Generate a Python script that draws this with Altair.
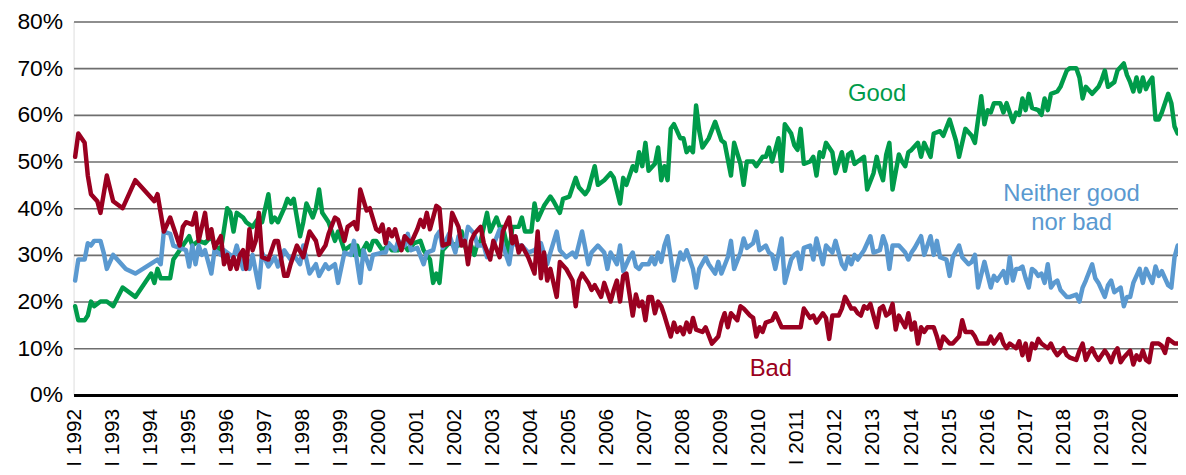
import altair as alt
import pandas as pd

# Survey share (%) by month index (0 = January 1992)
good = [(0,19),(1,16),(3,16),(4,17),(5,20),(6,19),(8,20),(10,20),(12,19),(15,23),(19,21),(24,26),(25,24),(26,27),(27,25),(30,25),(31,29),(33,31),(34,32),(36,34),(37,32),(39,33),(41,32.5),(43,34),(44,32),(46,31),(48,40),(49,39),(50,35),(51,39),(53,38),(54,37),(56,36),
(58,38),(59,37),(61,43),(62,37),(63,38),(64,37),(66,40),(67,42),(68,41),(69,42),(70,38),(71,34),(72,37),(73,41),(75,38),(76,40),(77,44),(78,39),(79,38),(80,37),(82,33),(83,35),(84,33),(85,31),(87,32),(88,30),(89,32),(90,30),(92,32.5),(93,31),(94,33),(95,33),(97,31),(99,32),(100,31),(102,31),(104,32),(105,31),(107,32.5),(109,33),(110,31),(111,30),(112,29),(113,24),(114,26),(115,24),
(116,31),(118,32.5),(121,32),(122,35),(123,32),(124,30),(125,32),(126,30),(127,32.5),(128,33),(130,39),(131,35),(133,38),(134,36),(135,36),(136,33),(137,30),(138,36),(140,36),(141,38),(142,35),(144,35),(145,41),(146,37.5),(148,40.5),(150,42.5),(151,41.5),(153,39),(154,42),(156,42.5),(158,46.5),(159,44.5),(161,43),(162,44),(164,49),(165,45),(167,46),(169,47.5),(170,46.5),(172,41),(173,46.5),(174,45),
(176,49),(177,48),(178,52),(179,49),(180,54),(181,48),(183,49.5),(184,53),(185,46),(186,49),(187,46),(188,57),(189,58),(191,55),(192,55),(193,52),(194,53),(195,52),(196,62),(197,56.5),(198,53),(200,55),(202,58.5),(204,54.5),(205,54),(207,47),(208,54),(210,49.5),(211,45),(212,50),(214,50),(215,49),(217,51),(218,51),(219,53),(220,50),(222,55),(223,48),(224,58),(226,56),(227,53.5),(228,52.5),(229,57),(230,49.5),
(232,50),(233,51),(234,47),(235,52),(236,51),(237,54),(239,52),(240,47.5),(242,52),(243,48),(244,51.5),(245,52),(246,49.5),(247,50),(249,51),(250,44),(252,47.5),(253,51),(254,48),(255,46),(256,51.5),(257,54),(258,44),(260,51.5),(261,50),(262,49),(263,52),(264,52.5),(266,54),(267,51),(268,54),(270,51),(271,56),(273,56.5),(274,55.5),(276,59),(278,54.5),(279,51),(281,57),(283,55.5),(284,54),(286,64),(287,58),(288,61),(289,60.5),(290,62.5),
(292,62.5),(293,60.5),(294,62.5),(296,58.5),(297,60.5),(298,60),(299,63.5),(300,61),(301,64.5),(302,61.5),(304,61),(305,60),(306,63.5),(307,61),(308,64.5),(310,65),(311,66),(313,69.5),(314,70),(316,70),(317,68),(318,63.5),(319,66),(321,64.5),(323,66),(324,67.5),(325,69.5),(326,66),(328,67),(329,69.5),(331,71),(332,68.5),(333,67),(334,65),(335,68),(336,65),(337,68),(338,65.5),(339,67),(340,68),(341,59),(342,59),(343,60.5),(345,64.5),(346,62.5),(347,57.5),(348,56)]

neither = [(0,24.5),(1,29),(3,29),(4,32.5),(5,32),(6,33),(8,33),(9,30.5),(10,27),(12,30),(16,27),(19,26),(26,29),(27,28),(28,35),(30,34.5),(31,32),(33,31.5),(35,31),(36,27.5),(37,32),(38,28),(39,32),(40,30),(41,31),(43,26),(44,31),(46,30),(47,31),(50,29.5),(51,32),(53,27),(54,29.5),(55,27),(56,30),(58,23),
(59,30.5),(61,27.5),(63,29.5),(64,27.5),(66,31),(67,30),(68,29),(69,30),(71,28),(72,32),(74,26),(76,28),(77,25.5),(79,28),(80,27),(82,28),(83,24),(85,30.5),(87,30),(88,33),(90,24),(91,31),(93,27),(94,30),(97,30.5),(98,30.5),(99,32.5),(101,31),(102,33),(104,32),(105,34.5),(106,31),(108,31.5),(110,28),(111,30.5),(113,31),(114,34),(115,35),
(116,31.5),(118,34.5),(120,30.5),(121,34),(123,32.5),(124,36),(126,34.5),(127,32),(129,32),(130,29.5),(132,32),(134,35.5),(135,32),(137,28),(138,32.5),(140,32),(141,32),(143,30.5),(145,31),(147,32.5),(149,28),(150,30.5),(152,35),(153,31),(155,29.5),(157,30.5),(158,29.5),(160,35),(162,28),(163,30.5),(165,32),(167,30.5),(168,27),(169,30.5),(171,28),(172,32),(173,26.5),
(175,29.5),(176,30.5),(177,27.5),(178,27),(179,28),(181,28),(182,29.5),(183,28),(184,30.5),(185,28.5),(186,32),(187,34),(188,29.5),(189,24.5),(190,27.5),(191,30.5),(192,29),(193,31),(195,27),(196,23),(197,27),(199,29.5),(200,28),(202,26),(203,28.5),(204,26),(206,29.5),(207,33),(208,27),(210,30.5),(211,33.5),(212,31.5),(214,32.5),(215,35),(216,31),(218,32),(219,30.5),(220,30),(221,27),(223,33.5),(224,24),(226,29),(227,30),(228,30.5),(229,27),(230,31.5),
(232,32),(233,29),(234,33.5),(236,28),(237,32),(239,30.5),(240,33),(242,28),(243,27),(244,29.5),(245,28),(246,30),(247,29),(249,31),(251,34),(252,30.5),(254,31),(255,34),(256,32),(257,27),(258,32),(260,32),(262,30.5),(263,29),(264,30.5),(265,31.5),(267,34),(268,30),(270,34),(271,30),(272,33),(273,29.5),(275,29),(276,25.5),(277,29.5),(279,32),(280,29.5),(282,28),(283,28.5),(284,30),(285,23),(287,28.5),(289,23),
(290,25.5),(291,24.5),(293,26.5),(294,24),(295,29.5),(296,24.5),(297,27),(298,27),(299,27.5),(300,25),(301,23),(302,27),(303,26.5),(304,25.5),(305,26),(306,24),(307,28),(308,23),(309,24),(310,24.5),(311,22.5),(313,21),(314,21),(316,21.5),(317,20),(318,23),(319,24.5),(321,28),(322,25),(323,24),(325,21),(326,23.5),(327,24.5),(328,22),(330,23),(331,19),(332,21),(333,21),(334,24),(336,27),(337,24),(338,27),(340,24),(341,27.5),(342,25.5),(343,26.5),(345,23.5),(346,23),(347,29.5),(348,32)]

bad = [(0,51),(1,56),(3,54),(4,47),(5,43),(7,41.5),(8,39),(10,47),(12,41.5),(15,40),(19,46),(25,41.5),(26,43),(28,35),(30,38),(31,36),(33,32),(34,36),(35,37),(37,36.5),(38,39),(39,33),(41,39),(42,33.5),(43,35.5),(44,31.5),(46,34),(47,28),(48,30),(49,27),(50,29.5),(51,27),(52,30),(53,31),(54,27),(55,35.5),(56,31),(57,33),(58,39),
(59,29.5),(61,29),(63,33),(64,33),(66,25.5),(67,25.5),(68,28),(70,32),(72,29.5),(74,35),(76,33),(77,30),(79,32),(80,34.5),(82,38),(83,37.5),(85,33),(86,36),(88,37),(89,35.5),(90,44),(92,39.5),(93,40),(95,35.5),(96,35),(97,36.5),(98,32.5),(99,35.5),(100,34),(101,35.5),(102,33),(103,31),(104,34),(106,32.5),(108,35.5),(109,37.5),(110,36),(111,39),(112,35.5),(114,40.5),(115,40),(116,32),
(118,32.5),(119,39),(121,36),(122,32),(123,33),(124,28),(125,33),(126,34.5),(128,36),(129,32.5),(131,29),(132,33),(134,29.5),(135,35),(137,38),(138,32.5),(139,34),(140,30.5),(141,32),(143,29.5),(145,26),(146,35),(147,25),(148,30.5),(149,24.5),(150,27),(152,21),(153,28.5),(155,27),(157,24.5),(158,19),(159,24.5),(160,26),(162,24),(163,22.5),(164,23.5),(166,21),(167,24),(169,20),(170,22.5),(171,24.5),(172,20),(173,25.5),(174,26),
(176,17),(177,21.5),(178,19),(179,20),(180,16),(181,21),(182,21),(183,17.5),(184,20),(185,19),(186,17),(188,12.5),(189,15.5),(190,13.5),(191,14.5),(192,13),(193,15.5),(194,13.5),(195,16.5),(196,14),(198,13.5),(199,14.5),(201,11),(203,12.5),(204,15.5),(205,17.5),(206,14.5),(207,17.5),(209,16),(210,19),(211,18.5),(213,17),(214,16.5),(215,12.5),(216,14.5),(217,13.5),(218,15.5),(220,16),(221,17.5),(223,14.5),(225,14.5),(226,14.5),(228,14.5),(229,14.5),(230,18.5),
(232,16.5),(233,17),(234,15.5),(236,17.5),(237,16.5),(238,12),(239,17),(241,17),(242,18.5),(243,21),(245,18.5),(246,18.5),(247,17.5),(248,17),(249,19),(250,18.5),(251,19.5),(252,17),(253,14.5),(254,18.5),(255,19),(256,17),(257,17.5),(258,19.5),(259,14),(260,17),(262,14.5),(263,17.5),(264,14),(265,15.5),(266,11),(267,14.5),(268,13.5),(269,14.5),(271,14.5),(272,12.5),(273,10),(274,12.5),(276,11),(277,11),(279,12.5),(280,16),(281,13.5),(283,13.5),(284,12.5),(285,11),(287,11),(288,11),(289,12.5),
(290,11),(292,13),(293,11),(294,10),(295,11),(297,10),(298,11.5),(299,8.5),(300,11),(301,7.5),(302,11),(303,10),(304,12),(305,11),(307,10),(308,11),(309,9.5),(310,8.5),(312,10),(313,8.5),(314,8),(316,7.5),(317,9.5),(318,11),(319,7.5),(320,9),(321,10),(322,8.5),(323,7.5),(325,9.5),(326,8.5),(327,7),(328,9),(329,10),(330,7),(331,8),(333,9.5),(334,6.5),(335,8.5),(336,7.5),(337,9.5),(338,7.5),(339,7),(340,11),(342,11),(343,10.5),(344,9),(345,12),(347,11),(348,11)]

series_names = ["Good", "Neither good nor bad", "Bad"]
series_colors = ["#009B4A", "#5A99D0", "#9A0020"]
years = list(range(1992, 2021))
year_ticks = [12 * (y - 1992) for y in years]
year_labels = [("I " if y >= 2018 else "I  ") + str(y) for y in years]
y_ticks = [0, 10, 20, 30, 40, 50, 60, 70, 80]

rows = []
for name, pairs in zip(series_names, [good, neither, bad]):
    for m, v in pairs:
        rows.append({"series": name, "month": m, "value": v})
df = pd.DataFrame(rows)
df_years = pd.DataFrame({"month": year_ticks, "label": year_labels})

FONT = "Liberation Sans"

x_scale = alt.Scale(domain=[-0.5, 348.1], nice=False, zero=False)

x_enc = alt.X(
    "month:Q",
    scale=x_scale,
    axis=alt.Axis(
        values=year_ticks,
        labels=False,
        ticks=False,
        grid=False,
        domain=True,
        domainColor="#000000",
        domainWidth=3,
        title=None,
    ),
)
y_enc = alt.Y(
    "value:Q",
    scale=alt.Scale(domain=[0, 80], nice=False, zero=True),
    axis=alt.Axis(
        values=y_ticks,
        labelExpr="datum.value + '%'",
        labelFontSize=23,
        labelColor="#000000",
        labelPadding=11,
        grid=True,
        gridColor="#6e6e6e",
        gridWidth=1.6,
        domain=False,
        ticks=False,
        title=None,
    ),
)

lines = alt.Chart(df).mark_line(strokeWidth=4.5, strokeJoin="round", strokeCap="round").encode(
    x=x_enc,
    y=y_enc,
    color=alt.Color("series:N", scale=alt.Scale(domain=series_names, range=series_colors), legend=None),
    detail="series:N",
    order=alt.Order("month:Q"),
)

year_text = alt.Chart(df_years).mark_text(
    angle=270, align="right", baseline="middle", fontSize=21, font=FONT, color="#000000"
).encode(
    x=alt.X("month:Q", scale=x_scale),
    y=alt.value(390),
    text="label:N",
)

def label(text, mx, vy, color):
    return alt.Chart(pd.DataFrame({"t": [text]})).mark_text(
        fontSize=24, font=FONT, color=color, align="center", baseline="alphabetic"
    ).encode(x=alt.X(datum=mx), y=alt.Y(datum=vy), text="t:N")

ann = (
    label("Good", 253.1, 63.0, series_colors[0])
    + label("Neither good", 314.5, 41.5, series_colors[1])
    + label("nor bad", 314.5, 35.3, series_colors[1])
    + label("Bad", 219.6, 4.0, series_colors[2])
)

chart = (
    alt.layer(lines, year_text, ann)
    .properties(
        width=1112,
        height=376,
        autosize=alt.AutoSizeParams(type="none"),
        padding={"left": 66, "top": 12, "right": 0, "bottom": 71},
    )
    .configure_view(stroke=None)
    .configure(font=FONT)
)

chart.save("out.html", embed_options={"renderer": "svg", "actions": False})
